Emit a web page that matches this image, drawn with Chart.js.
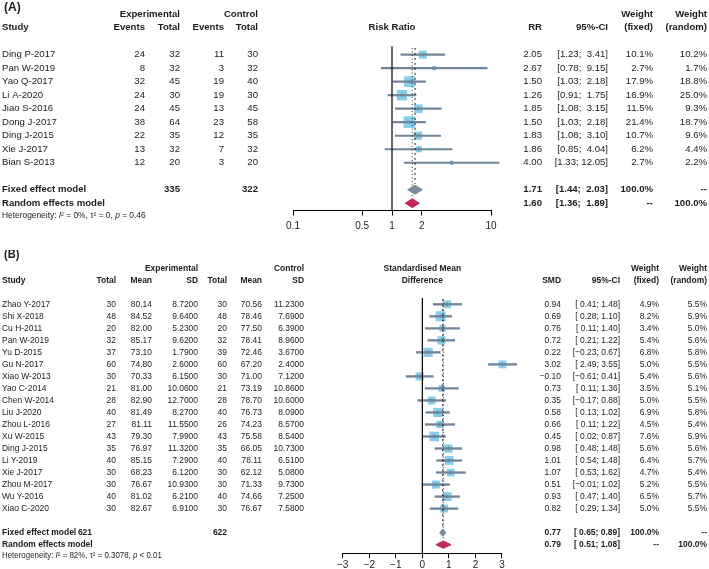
<!DOCTYPE html>
<html><head><meta charset="utf-8">
<script src="https://cdn.jsdelivr.net/npm/chart.js@4.4.1/dist/chart.umd.min.js"></script>
<style>
html,body{margin:0;padding:0;background:#fff;}
#wrap{position:relative;width:709px;height:569px;overflow:hidden;background:#fff;}
canvas{position:absolute;left:0;}
</style></head><body>
<div id="wrap">
<canvas id="ca" width="709" height="250" style="top:0px"></canvas>
<canvas id="cb" width="709" height="319" style="top:250px"></canvas>
</div>
<script>
// ---------------- Panel (A) data ----------------
const studiesA = ['Ding P-2017','Pan W-2019','Yao Q-2017','Li A-2020','Jiao S-2016','Dong J-2017','Ding J-2015','Xie J-2017','Bian S-2013'];
const eventsExpA = [24, 8, 32, 24, 24, 38, 22, 13, 12];
const totalExpA = [32, 32, 45, 30, 45, 64, 35, 32, 20];
const eventsCtrlA = [11, 3, 19, 19, 13, 23, 12, 7, 3];
const totalCtrlA = [30, 32, 40, 30, 45, 58, 35, 32, 20];
const rrA = [2.05, 2.67, 1.50, 1.26, 1.85, 1.50, 1.83, 1.86, 4.00];
const lowA = [1.23, 0.78, 1.03, 0.91, 1.08, 1.03, 1.08, 0.85, 1.33];
const highA = [3.41, 9.15, 2.18, 1.75, 3.15, 2.18, 3.10, 4.04, 12.05];
const wFixedA = [10.1, 2.7, 17.9, 16.9, 11.5, 21.4, 10.7, 6.2, 2.7];
const wRandomA = [10.2, 1.7, 18.8, 25.0, 9.3, 18.7, 9.6, 4.4, 2.2];
const pooledA = [1.71, 1.60];        // fixed, random
const pooledLowA = [1.44, 1.36];
const pooledHighA = [2.03, 1.89];
const totalsA = [335, 322];
const hetA = ['0%', '0', '= 0.46'];
const ticksA = [0.1, 0.5, 1, 2, 10];

// ---------------- Panel (B) data ----------------
const studiesB = ['Zhao Y-2017','Shi X-2018','Cu H-2011','Pan W-2019','Yu D-2015','Gu N-2017','Xiao W-2013','Yao C-2014','Chen W-2014','Liu J-2020','Zhou L-2016','Xu W-2015','Ding J-2015','Li Y-2019','Xie J-2017','Zhou M-2017','Wu Y-2016','Xiao C-2020'];
const totalExpB = [30, 48, 20, 32, 37, 60, 30, 21, 28, 40, 27, 43, 35, 40, 30, 30, 40, 30];
const meanExpB = [80.14, 84.52, 82.00, 85.17, 73.10, 74.80, 70.33, 81.00, 82.90, 81.49, 81.11, 79.30, 76.97, 85.15, 68.23, 76.67, 81.02, 82.67];
const sdExpB = [8.72, 9.64, 5.23, 9.62, 1.79, 2.60, 6.15, 10.06, 12.70, 8.27, 11.55, 7.99, 11.32, 7.29, 6.12, 10.93, 6.21, 6.91];
const totalCtrlB = [30, 48, 20, 32, 39, 60, 30, 21, 28, 40, 26, 43, 35, 40, 30, 30, 40, 30];
const meanCtrlB = [70.56, 78.46, 77.50, 78.41, 72.46, 67.20, 71.00, 73.19, 78.70, 76.73, 74.23, 75.58, 66.05, 78.11, 62.12, 71.33, 74.66, 76.67];
const sdCtrlB = [11.23, 7.69, 6.39, 8.96, 3.67, 2.40, 7.12, 10.86, 10.60, 8.09, 8.57, 8.54, 10.73, 6.51, 5.08, 9.73, 7.25, 7.58];
const smdB = [0.94, 0.69, 0.76, 0.72, 0.22, 3.02, -0.10, 0.73, 0.35, 0.58, 0.66, 0.45, 0.98, 1.01, 1.07, 0.51, 0.93, 0.82];
const lowB = [0.41, 0.28, 0.11, 0.21, -0.23, 2.49, -0.61, 0.11, -0.17, 0.13, 0.11, 0.02, 0.48, 0.54, 0.53, -0.01, 0.47, 0.29];
const highB = [1.48, 1.10, 1.40, 1.22, 0.67, 3.55, 0.41, 1.36, 0.88, 1.02, 1.22, 0.87, 1.48, 1.48, 1.62, 1.02, 1.40, 1.34];
const wFixedB = [4.9, 8.2, 3.4, 5.4, 6.8, 5.0, 5.4, 3.5, 5.0, 6.9, 4.5, 7.6, 5.6, 6.4, 4.7, 5.2, 6.5, 5.0];
const wRandomB = [5.5, 5.9, 5.0, 5.6, 5.8, 5.5, 5.6, 5.1, 5.5, 5.8, 5.4, 5.9, 5.6, 5.7, 5.4, 5.5, 5.7, 5.5];
const pooledB = [0.77, 0.79];
const pooledLowB = [0.65, 0.51];
const pooledHighB = [0.89, 1.08];
const totalsB = [621, 622];
const hetB = ['82%', '0.3078', '< 0.01'];
const ticksB = [-3, -2, -1, 0, 1, 2, 3];

// ---------------- helpers ----------------
const FONT = '"Liberation Sans", Arial, Helvetica, sans-serif';
const fnt = (size, bold, italic) => (italic ? 'italic ' : '') + (bold ? 'bold ' : '') + size + 'px ' + FONT;
const num = (v, d) => { const s = v.toFixed(d); return s.replace('-', '\u2212'); };
const padL = (s, n) => (s.length >= n ? s : ' '.repeat(n - s.length) + s);
const pct = v => v.toFixed(1) + '%';
const ciA = (lo, hi) => '[' + num(lo, 2) + '; ' + padL(num(hi, 2), 5) + ']';
const ciB = (lo, hi) => '[' + padL(num(lo, 2), 5) + '; ' + num(hi, 2) + ']';

const SQ_COL = '#87CEEB';
const CI_COL = '#70849A';
const FIX_COL = '#7A8C9F';
const RAN_COL = '#C0265A';
const TXT = '#1c1c1c';

Chart.defaults.font.family = FONT;
Chart.defaults.animation = false;

function makeForest(p) {
  const n = p.est.length;
  const fixRow = n + 1, ranRow = n + 2;
  const pts = p.est.map((v, i) => ({ x: v, y: i }));
  const diamond = (k, row) => [
    { x: p.pLow[k], y: row }, { x: p.pooled[k], y: row - p.dh },
    { x: p.pHigh[k], y: row }, { x: p.pooled[k], y: row + p.dh }, { x: p.pLow[k], y: row }
  ];
  const datasets = [
    { type: 'scatter', order: 9, data: pts, pointStyle: 'rect',
      pointRadius: c => p.sq * Math.sqrt(p.wFixed[c.dataIndex]) / Math.SQRT2,
      pointHoverRadius: c => p.sq * Math.sqrt(p.wFixed[c.dataIndex]) / Math.SQRT2,
      backgroundColor: SQ_COL, borderWidth: 0, clip: false },
    { type: 'bar', indexAxis: 'y', order: 8, data: p.est.map((v, i) => ({ y: i, x: [p.low[i], p.high[i]] })),
      backgroundColor: CI_COL, borderWidth: 0, barThickness: p.ciW, clip: false },
    { type: 'scatter', order: 7, data: pts, pointStyle: 'line', rotation: 90, pointRadius: p.tick,
      borderColor: CI_COL, borderWidth: 1, clip: false },
    { type: 'line', order: 6, data: [{ x: p.nul, y: p.yMin }, { x: p.nul, y: p.yMax }],
      borderColor: '#000', borderWidth: 1.2, pointRadius: 0, clip: false },
    { type: 'line', order: 5, data: [{ x: p.pooled[0], y: p.yMin + 0.1 }, { x: p.pooled[0], y: fixRow - p.dh - 0.1 }],
      borderColor: '#222', borderWidth: 1, borderDash: [2, 3], pointRadius: 0 },
    { type: 'line', order: 4, data: [{ x: p.pooled[1], y: p.yMin + 0.1 }, { x: p.pooled[1], y: ranRow - p.dh - 0.1 }],
      borderColor: '#222', borderWidth: 1, borderDash: [1, 2.5], pointRadius: 0 },
    { type: 'line', order: 3, data: diamond(0, fixRow), showLine: true, fill: 'shape',
      backgroundColor: FIX_COL, borderColor: FIX_COL, borderWidth: 1, pointRadius: 0, tension: 0 },
    { type: 'line', order: 2, data: diamond(1, ranRow), showLine: true, fill: 'shape',
      backgroundColor: RAN_COL, borderColor: RAN_COL, borderWidth: 1, pointRadius: 0, tension: 0 }
  ];

  const textPlugin = {
    id: 'forestText',
    afterDraw(chart) {
      const ctx = chart.ctx;
      const Y = r => chart.scales.y.getPixelForValue(r);
      const ca = chart.chartArea;
      const hs = p.hscale;
      ctx.save();
      ctx.textBaseline = 'middle';
      ctx.fillStyle = TXT;
      const put = (t, x, r, align, size, bold, italic) => {
        ctx.save();
        ctx.font = fnt(size, bold, italic);
        ctx.textAlign = align;
        ctx.translate(x, Y(r));
        ctx.scale(hs, 1);
        ctx.fillText(String(t), 0, 0);
        ctx.restore();
      };
      put(p.label, 4, p.labelRow, 'left', 12, true);
      p.headers.forEach(h => put(h.t, h.x === 'mid' ? (ca.left + ca.right) / 2 : h.x, h.r, h.a || 'right', p.fs, true));
      p.columns.forEach(col => col.v.forEach((t, i) => put(t, col.x, i, col.a || 'right', p.fs, false)));
      p.summary.forEach(s => put(s.t, s.x, s.r, s.a || 'right', p.fs, true));
      // heterogeneity line
      let x = 2;
      p.het.forEach(([t, it]) => {
        ctx.font = fnt(p.hetFs, false, it);
        put(t, x, p.hetRow, 'left', p.hetFs, false, it);
        x += ctx.measureText(t).width * hs;
      });
      ctx.restore();
    }
  };

  return new Chart(document.getElementById(p.canvas), {
    type: 'scatter',
    data: { datasets },
    options: {
      responsive: false, maintainAspectRatio: false, devicePixelRatio: 1, animation: false,
      events: [],
      layout: { padding: p.pad },
      plugins: { legend: { display: false }, tooltip: { enabled: false } },
      scales: {
        x: {
          type: p.type, min: p.xMin, max: p.xMax, position: 'bottom', offset: false,
          afterBuildTicks: s => { s.ticks = p.ticks.map(v => ({ value: v })); },
          afterFit: s => { s.height = p.axisH; },
          ticks: { autoSkip: false, maxRotation: 0, minRotation: 0, color: TXT, padding: p.tickPad,
                   font: { size: 10 }, callback: v => (v < 0 ? '\u2212' + Math.abs(v) : String(v)) },
          grid: { drawOnChartArea: false, drawTicks: true, tickLength: 5, tickWidth: 1, color: '#000', offset: false },
          border: { display: true, color: '#000', width: 1 }
        },
        y: { type: 'linear', display: false, reverse: true, min: p.yMin, max: p.yMax, offset: false,
             grid: { offset: false } }
      }
    },
    plugins: [textPlugin]
  });
}

// ---------------- Panel A ----------------
const nA = studiesA.length;
makeForest({
  canvas: 'ca', type: 'logarithmic', xMin: 0.1, xMax: 10, ticks: ticksA, nul: 1,
  est: rrA, low: lowA, high: highA, wFixed: wFixedA,
  pooled: pooledA, pLow: pooledLowA, pHigh: pooledHighA,
  pad: { top: 46.6, left: 293, right: 218, bottom: 14.5 }, axisH: 25, tickPad: 5,
  yMin: -0.6, yMax: 11.54, sq: 2.53, ciW: 1.5, tick: 2, dh: 0.33, fs: 9.6, hscale: 1,
  label: '(A)', labelRow: -3.5, hetRow: nA + 2.9, hetFs: 8.4,
  het: [['Heterogeneity: ', false], ['I', true], ['\u00B2 = ' + hetA[0] + ', \u03C4\u00B2 = ' + hetA[1] + ', ', false], ['p', true], [' ' + hetA[2], false]],
  headers: [
    { t: 'Experimental', x: 180, r: -3 }, { t: 'Control', x: 258, r: -3 },
    { t: 'Study', x: 2, r: -2, a: 'left' },
    { t: 'Events', x: 145, r: -2 }, { t: 'Total', x: 180, r: -2 },
    { t: 'Events', x: 224, r: -2 }, { t: 'Total', x: 258, r: -2 },
    { t: 'Risk Ratio', x: 'mid', r: -2, a: 'center' },
    { t: 'RR', x: 542, r: -2 }, { t: '95%-CI', x: 608, r: -2 },
    { t: 'Weight', x: 653, r: -3 }, { t: '(fixed)', x: 653, r: -2 },
    { t: 'Weight', x: 707, r: -3 }, { t: '(random)', x: 707, r: -2 }
  ],
  columns: [
    { x: 2, a: 'left', v: studiesA },
    { x: 145, v: eventsExpA }, { x: 180, v: totalExpA },
    { x: 224, v: eventsCtrlA }, { x: 258, v: totalCtrlA },
    { x: 542, v: rrA.map(v => num(v, 2)) },
    { x: 608, v: rrA.map((v, i) => ciA(lowA[i], highA[i])) },
    { x: 653, v: wFixedA.map(pct) }, { x: 707, v: wRandomA.map(pct) }
  ],
  summary: [
    { t: 'Fixed effect model', x: 2, r: nA + 1, a: 'left' },
    { t: totalsA[0], x: 180, r: nA + 1 }, { t: totalsA[1], x: 258, r: nA + 1 },
    { t: num(pooledA[0], 2), x: 542, r: nA + 1 }, { t: ciA(pooledLowA[0], pooledHighA[0]), x: 608, r: nA + 1 },
    { t: '100.0%', x: 653, r: nA + 1 }, { t: '--', x: 707, r: nA + 1 },
    { t: 'Random effects model', x: 2, r: nA + 2, a: 'left' },
    { t: num(pooledA[1], 2), x: 542, r: nA + 2 }, { t: ciA(pooledLowA[1], pooledHighA[1]), x: 608, r: nA + 2 },
    { t: '--', x: 653, r: nA + 2 }, { t: '100.0%', x: 707, r: nA + 2 }
  ]
});

// ---------------- Panel B ----------------
const nB = studiesB.length;
makeForest({
  canvas: 'cb', type: 'linear', xMin: -3, xMax: 3, ticks: ticksB, nul: 0,
  est: smdB, low: lowB, high: highB, wFixed: wFixedB,
  pooled: pooledB, pLow: pooledLowB, pHigh: pooledHighB,
  pad: { top: 48, left: 342.7, right: 207, bottom: 0 }, axisH: 15.7, tickPad: 1,
  yMin: -0.524, yMax: 20.72, sq: 3.5, ciW: 1.7, tick: 2, dh: 0.3, fs: 9.2, hscale: 0.92,
  label: '(B)', labelRow: -4.1, hetRow: nB + 2.95, hetFs: 8.6,
  het: [['Heterogeneity: ', false], ['I', true], ['\u00B2 = ' + hetB[0] + ', \u03C4\u00B2 = ' + hetB[1] + ', ', false], ['p', true], [' ' + hetB[2], false]],
  headers: [
    { t: 'Experimental', x: 198, r: -3 }, { t: 'Control', x: 304, r: -3 },
    { t: 'Study', x: 2, r: -2, a: 'left' },
    { t: 'Total', x: 116, r: -2 }, { t: 'Mean', x: 152, r: -2 }, { t: 'SD', x: 198, r: -2 },
    { t: 'Total', x: 227, r: -2 }, { t: 'Mean', x: 262, r: -2 }, { t: 'SD', x: 304, r: -2 },
    { t: 'Standardised Mean', x: 'mid', r: -3, a: 'center' },
    { t: 'Difference', x: 'mid', r: -2, a: 'center' },
    { t: 'SMD', x: 561, r: -2 }, { t: '95%-CI', x: 620, r: -2 },
    { t: 'Weight', x: 659, r: -3 }, { t: '(fixed)', x: 659, r: -2 },
    { t: 'Weight', x: 707, r: -3 }, { t: '(random)', x: 707, r: -2 }
  ],
  columns: [
    { x: 2, a: 'left', v: studiesB },
    { x: 116, v: totalExpB }, { x: 152, v: meanExpB.map(v => num(v, 2)) }, { x: 198, v: sdExpB.map(v => num(v, 4)) },
    { x: 227, v: totalCtrlB }, { x: 262, v: meanCtrlB.map(v => num(v, 2)) }, { x: 304, v: sdCtrlB.map(v => num(v, 4)) },
    { x: 561, v: smdB.map(v => num(v, 2)) },
    { x: 620, v: smdB.map((v, i) => ciB(lowB[i], highB[i])) },
    { x: 659, v: wFixedB.map(pct) }, { x: 707, v: wRandomB.map(pct) }
  ],
  summary: [
    { t: 'Fixed effect model', x: 2, r: nB + 1, a: 'left' },
    { t: totalsB[0], x: 92, r: nB + 1 }, { t: totalsB[1], x: 227, r: nB + 1 },
    { t: num(pooledB[0], 2), x: 561, r: nB + 1 }, { t: ciB(pooledLowB[0], pooledHighB[0]), x: 620, r: nB + 1 },
    { t: '100.0%', x: 659, r: nB + 1 }, { t: '--', x: 707, r: nB + 1 },
    { t: 'Random effects model', x: 2, r: nB + 2, a: 'left' },
    { t: num(pooledB[1], 2), x: 561, r: nB + 2 }, { t: ciB(pooledLowB[1], pooledHighB[1]), x: 620, r: nB + 2 },
    { t: '--', x: 659, r: nB + 2 }, { t: '100.0%', x: 707, r: nB + 2 }
  ]
});
</script>
</body></html>
